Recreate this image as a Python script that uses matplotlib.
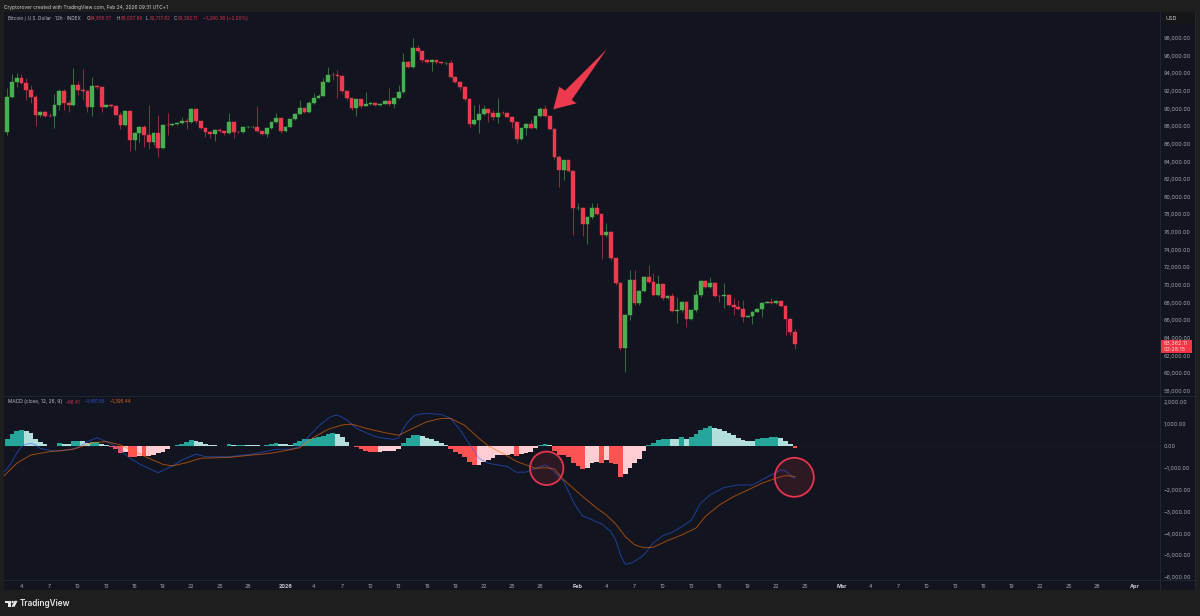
import matplotlib
matplotlib.use("Agg")
import matplotlib.pyplot as plt
from matplotlib.patches import Ellipse, Polygon, Rectangle
import numpy as np
import pandas as pd

plt.rcParams["font.family"] = ["Inter", "DejaVu Sans"]

W, H = 1200, 616

# 12h candles, first one Dec 2 2025 12:00
first_candle = pd.Timestamp("2025-12-02 12:00")
first_open = 87350

closes = [
    91280, 93020, 93430, 92860, 92110, 91350, 89310, 89650, 89200, 89130,
    90370, 91960, 90600, 90370, 92710, 92110, 92000, 90220, 92520, 92410,
    90220, 90370, 90260, 89310, 88110, 89690, 86440, 87270, 87880, 87010,
    86180, 87270, 85500, 88180, 88110, 88260, 88330, 88600, 88500, 89920,
    88560, 87770, 87390, 87160, 87610, 87460, 87200, 88480, 87350, 87310,
    87880, 87920, 87950, 87420, 87160, 87770, 88450, 88940, 87500, 87950,
    88790, 89430, 90030, 89650, 90600, 91240, 91470, 93050, 93810, 93770,
    93730, 91960, 91240, 90070, 91050, 90330, 90520, 90630, 90400, 90560,
    90900, 90520, 91160, 91880, 95320, 94680, 96900, 96490, 95510, 95320,
    95510, 95240, 95130, 95210, 93620, 93050, 92490, 91130, 88260, 88710,
    89390, 89920, 89460, 89090, 89540, 89500, 89090, 88440, 86520, 87760,
    88260, 87840, 89120, 89990, 89160, 87690, 84520, 83040, 84140, 82930,
    78700, 78780, 76890, 77680, 78700, 78020, 75680, 76020, 73070, 70280,
    62840, 66610, 70580, 67940, 69300, 70960, 70320, 68880, 70130, 68500,
    68800, 67030, 67140, 68090, 66200, 67140, 68840, 70500, 69820, 70280,
    68800, 68730, 68920, 67780, 67480, 67330, 66430, 66540, 66990, 67330,
    68010, 68130, 68010, 68200, 67630, 66200, 64656.57, 63362.11,
]
highs = [
    92300, 93920, 94070, 93920, 93430, 92680, 91540, 89700, 89730, 89460,
    91660, 92180, 92180, 90980, 94560, 93170, 94450, 92110, 93540, 92710,
    92560, 90520, 90520, 90370, 89650, 89840, 89770, 87350, 88030, 88140,
    90410, 87390, 89280, 88260, 89460, 88330, 88450, 89010, 88900, 90030,
    90030, 88600, 87950, 87500, 87700, 87750, 87500, 89460, 88520, 87420,
    87950, 88000, 88050, 90300, 87500, 87800, 88500, 89460, 88940, 88000,
    88850, 89540, 90980, 90100, 90900, 91730, 91600, 93430, 94750, 94190,
    94370, 93810, 91980, 91240, 91100, 91100, 91920, 90700, 90700, 90650,
    91000, 92300, 91250, 92670, 96260, 95350, 97960, 97210, 96550, 95600,
    95600, 95550, 95300, 95300, 95510, 93700, 93100, 92550, 91200, 90410,
    90520, 90410, 90000, 89800, 91160, 89700, 89550, 89150, 88480, 87800,
    88400, 88710, 89200, 90150, 90410, 89200, 87750, 84740, 84200, 84200,
    83000, 79270, 78800, 77750, 79340, 79340, 78100, 77000, 76100, 73100,
    70300, 66700, 71710, 71710, 69500, 71000, 72280, 71340, 71150, 70200,
    68900, 69070, 68690, 68150, 68150, 67200, 69450, 70600, 70600, 70960,
    70350, 68850, 70200, 69000, 68500, 68310, 68310, 66650, 67050, 67400,
    68100, 68200, 68500, 68300, 68250, 67700, 66250, 65007.68,
]
lows = [
    87010, 91160, 92490, 92790, 90980, 90600, 88030, 89090, 89010, 89010,
    87770, 89840, 89840, 89650, 90300, 91540, 90980, 89650, 89160, 92260,
    89650, 90140, 90140, 89240, 87650, 88030, 85230, 85310, 86250, 85690,
    85390, 85880, 84480, 85390, 87010, 88000, 88100, 88260, 87650, 88400,
    88330, 87650, 86820, 86630, 86370, 87300, 87050, 87090, 86630, 87200,
    87250, 87800, 87850, 87350, 87050, 86750, 87700, 88400, 87270, 87400,
    87900, 88750, 89400, 89500, 89500, 90500, 91150, 91400, 93000, 93240,
    91160, 91800, 91000, 89840, 89160, 90100, 90250, 90450, 90300, 90300,
    90500, 90350, 90030, 91100, 91800, 94600, 94600, 96400, 95300, 95150,
    94300, 95100, 95000, 94950, 93500, 92900, 92100, 90900, 87880, 88140,
    87200, 89300, 88520, 88700, 88330, 89400, 89000, 87760, 86060, 86400,
    87000, 87700, 87700, 89000, 89050, 87600, 84300, 81150, 81910, 82800,
    75680, 78500, 75570, 74660, 77500, 77900, 72920, 75500, 72900, 70000,
    62650, 60190, 66050, 67800, 67800, 69200, 70200, 68750, 68750, 68350,
    68400, 66900, 65670, 66900, 65220, 66100, 66900, 68700, 69700, 69700,
    68700, 68130, 67370, 67650, 66610, 67200, 65860, 66350, 65590, 66900,
    66430, 67950, 67900, 67900, 67500, 64350, 64350, 62717.62,
]

hist = [
    300, 550, 680, 730, 680, 580, 330, 200, 80, 10,
    5, 120, 110, 80, 230, 245, 230, 120, 170, 180,
    80, 30, -60, -150, -300, -290, -490, -495, -440, -450,
    -440, -410, -330, -260, -120, -20, 50, 90, 200, 270,
    240, 200, 90, 50, 30, 15, 10, 80, 50, 55,
    60, 50, 45, 30, 15, 50, 80, 150, 110, 90,
    30, 150, 240, 300, 330, 350, 400, 470, 550, 590,
    530, 400, 200, -15, -60, -150, -230, -270, -280, -260,
    -250, -245, -230, -150, 150, 350, 500, 520, 460, 350,
    300, 210, 150, 50, -150, -260, -380, -520, -710, -880,
    -875, -745, -640, -560, -410, -405, -400, -380, -460, -380,
    -300, -260, -110, 60, 90, 50, -210, -410, -420, -520,
    -790, -910, -1030, -1020, -760, -730, -760, -640, -760, -840,
    -1400, -1280, -1020, -790, -580, -210, 30, 150, 270, 310,
    330, 320, 310, 400, 330, 400, 550, 730, 840, 900,
    840, 760, 700, 580, 490, 350, 270, 240, 235, 320,
    350, 380, 395, 400, 380, 240, 80, -86.41,
]

# macd / signal read at a subset of candles (index into the candle list)
macd_idx = [
    -1, 0, 1, 2, 3, 4, 5, 6, 7, 9, 11, 13, 15, 17, 19, 21, 23, 26, 28, 32,
    35, 37, 40, 42, 47, 52, 57, 60, 62, 63, 64, 66, 68, 69, 70, 71, 72, 74, 76, 78,
    80, 82, 83, 84, 85, 86, 87, 89, 92, 94, 96, 98, 100, 102, 106, 108, 110, 112, 114, 115,
    116, 117, 118, 119, 120, 121, 122, 124, 126, 128, 129, 130, 131, 132, 133, 135, 137, 139, 141, 143,
    145, 147, 149, 152, 155, 158, 161, 164, 165, 166, 167,
]
macd_line = [
    -1250, -1020, -710, -330, -30, 80, 120, 50, -110, -200, -230, -180, -60, 200, 380, 200, -30, -560, -820, -1220,
    -910, -640, -370, -490, -490, -370, -150, -150, -30, 200, 460, 910, 1260, 1370, 1410, 1310, 1190, 810, 610, 430,
    350, 300, 380, 810, 1110, 1340, 1440, 1490, 1440, 1260, 730, 80, -560, -790, -940, -1200, -1190, -1020, -870, -990,
    -1180, -1400, -1630, -2080, -2540, -2900, -3190, -3370, -3560, -3910, -4300, -4970, -5400, -5370, -5270, -4970, -4410, -4100, -3940, -3680,
    -3400, -2610, -2230, -1890, -1780, -1780, -1430, -1090, -1130, -1340, -1481.85,
]
signal_idx = [
    -1, 2, 5, 9, 14, 18, 21, 24, 27, 30, 33, 35, 38, 41, 47, 52, 56, 59, 62, 65,
    68, 71, 73, 76, 80, 83, 86, 89, 92, 94, 97, 100, 102, 105, 108, 112, 114, 116, 118, 120,
    122, 125, 127, 129, 131, 133, 135, 137, 140, 143, 146, 148, 151, 154, 157, 160, 163, 165, 167,
]
signal_line = [
    -1430, -790, -410, -260, -150, 150, 200, 50, -260, -560, -840, -910, -760, -560, -520, -410, -330, -210, -80, 400,
    760, 960, 1000, 810, 610, 490, 810, 1110, 1260, 1260, 940, 350, 0, -330, -710, -1020, -990, -1050, -1550, -1930,
    -2310, -2840, -3150, -3560, -4130, -4510, -4650, -4620, -4320, -4060, -3750, -3220, -2690, -2310, -2010, -1700, -1470, -1350, -1395.44,
]

price_ticks = list(range(58000, 100000, 2000))
macd_ticks = [2000, 1000, 0, -1000, -2000, -3000, -4000, -5000, -6000]
date_ticks = [
    "2025-12-04", "2025-12-07", "2025-12-10", "2025-12-13", "2025-12-16", "2025-12-19", "2025-12-22",
    "2025-12-25", "2025-12-28", "2026-01-01", "2026-01-04", "2026-01-07", "2026-01-10", "2026-01-13",
    "2026-01-16", "2026-01-19", "2026-01-22", "2026-01-25", "2026-01-28", "2026-02-01", "2026-02-04",
    "2026-02-07", "2026-02-10", "2026-02-13", "2026-02-16", "2026-02-19", "2026-02-22", "2026-02-25",
    "2026-03-01", "2026-03-04", "2026-03-07", "2026-03-10", "2026-03-13", "2026-03-16", "2026-03-19",
    "2026-03-22", "2026-03-25", "2026-03-28", "2026-04-01",
]
date_labels = [
    "4", "7", "10", "13", "16", "19", "22", "25", "28", "2026", "4", "7", "10", "13", "16", "19", "22",
    "25", "28", "Feb", "4", "7", "10", "13", "16", "19", "22", "25", "Mar", "4", "7", "10", "13", "16",
    "19", "22", "25", "28", "Apr",
]

BG = "#12151f"
FRAME = "#1e1e1e"
UP = "#49b04f"
DOWN = "#ee3a4e"
AXIS_TEXT = "#a5a7ad"
LINE = "#262a36"


def fx(x):
    return x / W


def fy(y):
    return 1 - y / H


def add_axes_px(x0, y0, x1, y1):
    return fig.add_axes([fx(x0), fy(y1), (x1 - x0) / W, (y1 - y0) / H], facecolor=BG)


def label(x, y, s, color="#c9cbd0", size=3.5, **kw):
    fig.text(fx(x), fy(y), s, color=color, fontsize=size, va="center", **kw)


def candle_time(idx):
    return first_candle + pd.to_timedelta(np.array(idx) * 12, unit="h")


fig = plt.figure(figsize=(W / 100, H / 100), dpi=100, facecolor=FRAME)
fig.add_artist(Rectangle((fx(4), fy(590)), (1195 - 4) / W, (590 - 12) / H, transform=fig.transFigure,
                         facecolor=BG, edgecolor="none", zorder=-1))

ax = add_axes_px(4, 12, 1160, 395)
ax2 = add_axes_px(4, 396, 1160, 580)

dates = candle_time(np.arange(len(closes)))
opens = [first_open] + closes[:-1]
colors = [UP if c >= o else DOWN for o, c in zip(opens, closes)]
bottoms = [min(o, c) for o, c in zip(opens, closes)]
heights = [abs(c - o) for o, c in zip(opens, closes)]

ax.vlines(dates, lows, highs, colors=colors, lw=0.7, alpha=0.6, zorder=2)
ax.bar(dates, heights, bottom=bottoms, width=0.4, color=colors, edgecolor=colors, lw=0.3, zorder=3)
ax.set_ylim(57546, 100946)

# histogram colour follows the usual rising / falling rule
hist_colors = []
prev = 0
for v in hist:
    if v >= 0:
        hist_colors.append("#26a69a" if v >= prev else "#b2dfdb")
    else:
        hist_colors.append("#ff5252" if v < prev else "#ffcdd2")
    prev = v

ax2.axhline(0, color="#2f3340", lw=0.5, ls=(0, (1, 3)), zorder=1)
ax2.bar(dates, hist, width=0.5, color=hist_colors, zorder=2)
ax2.plot(candle_time(macd_idx), macd_line, color="#2962ff", lw=0.7, alpha=0.55, zorder=3, solid_joinstyle="round")
ax2.plot(candle_time(signal_idx), signal_line, color="#ff6d00", lw=0.7, alpha=0.6, zorder=3, solid_joinstyle="round")
ax2.set_ylim(-6119, 2283)

x_left = first_candle - pd.Timedelta(hours=8.4)
x_right = first_candle + pd.Timedelta(hours=12 * 244.4)
for a in (ax, ax2):
    a.set_xlim(x_left, x_right)
    for side in a.spines:
        a.spines[side].set_visible(False)
    a.yaxis.tick_right()
    a.tick_params(axis="y", length=0, pad=2.8, labelsize=3.9, labelcolor=AXIS_TEXT)

ax.set_xticks([])
ax.set_yticks(price_ticks)
ax.set_yticklabels([f"{p:,.2f}" for p in price_ticks])
ax2.set_yticks(macd_ticks)
ax2.set_yticklabels([f"{m:,.2f}".replace("-", "\u2212") for m in macd_ticks])
ax2.set_xticks(pd.to_datetime(date_ticks))
ax2.set_xticklabels(date_labels)
ax2.tick_params(axis="x", length=0, pad=3, labelsize=3.9, labelcolor=AXIS_TEXT)
for t in ax2.get_xticklabels():
    if t.get_text() in ("2026", "Feb", "Mar", "Apr"):
        t.set_color("#c9cbd0")
        t.set_fontweight("bold")

# pane separators
for x0, y0, x1, y1 in [(4, 395.5, 1195, 395.5), (4, 579.5, 1195, 579.5), (1160, 12, 1160, 590), (1195, 12, 1195, 590)]:
    fig.add_artist(plt.Line2D([fx(x0), fx(x1)], [fy(y0), fy(y1)], color=LINE, lw=0.6))

# USD box and last price tag
fig.add_artist(Rectangle((fx(1162), fy(23)), 32 / W, 11 / H, transform=fig.transFigure, facecolor="#161618", edgecolor="none"))
label(1166, 18, "USD", color="#c9cbd0", size=3.9)
fig.add_artist(Rectangle((fx(1161), fy(353)), 31 / W, 13 / H, transform=fig.transFigure, facecolor="#f23645", edgecolor="none"))
label(1164, 343.5, "63,362.11", color="#f5d9dc", size=3.9)
label(1164, 349.7, "03:28:15", color="#f5d9dc", size=3.9)

# headers
label(4, 7, "Cryptorover created with TradingView.com, Feb 24, 2026 09:31 UTC+1", color="#d0d1d4")
label(7.5, 18.7, "Bitcoin / U.S. Dollar \u00b7 12h \u00b7 INDEX", color="#b8bac0", size=3.4)
for x, letter, value in [(86.5, "O", "64,656.57"), (117, "H", "65,007.68"), (146, "L", "62,717.62"), (174, "C", "63,362.11")]:
    label(x, 18.7, letter, color="#b8bac0", size=3.3)
    label(x + 3.5, 18.7, value, color="#d9304a", size=3.3)
label(203, 18.7, "\u22121,290.36 (\u22122.00%)", color="#d9304a", size=3.4)
label(7.5, 402, "MACD (close, 12, 26, 9)", color="#b8bac0")
label(66, 402, "\u221286.41", color="#d9304a", size=3.3)
label(84, 402, "\u22121,481.85", color="#2a52d8", size=3.3)
label(110, 402, "\u22121,395.44", color="#e0641a", size=3.3)

# arrow and circles drawn over the chart
arrow_x = [553.3, 559.3, 565, 606.7, 571.7, 576.7]
arrow_y = [109.3, 86.7, 90.7, 49.3, 100, 103.3]
fig.add_artist(Polygon(list(zip(map(fx, arrow_x), map(fy, arrow_y))), closed=True, transform=fig.transFigure,
                       facecolor="#ee3a4e", edgecolor="none", zorder=6))
for cx, cy, r in [(546.7, 468.3, 16.7), (794.3, 477.3, 19.5)]:
    fig.add_artist(Ellipse((fx(cx), fy(cy)), 2 * r / W, 2 * r / H, transform=fig.transFigure,
                           facecolor=(0.93, 0.23, 0.31, 0.12), edgecolor="#e8344c", lw=1.3, zorder=6))

# TradingView logo
logo_parts = [
    [(5, 600.8), (11.2, 600.8), (11.2, 606.8), (8.2, 606.8), (8.2, 603.4), (5, 603.4)],
    [(14.5, 600.8), (17.6, 600.8), (14.6, 606.8), (11.4, 606.8)],
]
for part in logo_parts:
    fig.add_artist(Polygon([(fx(a), fy(b)) for a, b in part], closed=True, transform=fig.transFigure,
                           facecolor="#e6e6e6", edgecolor="none"))
fig.add_artist(Ellipse((fx(12.6), fy(602)), 2.4 / W, 2.4 / H, transform=fig.transFigure, facecolor="#e6e6e6", edgecolor="none"))
label(20, 604, "TradingView", color="#e6e6e6", size=5.9, fontweight="semibold")

fig.savefig("out.png", dpi=100, facecolor=FRAME)
